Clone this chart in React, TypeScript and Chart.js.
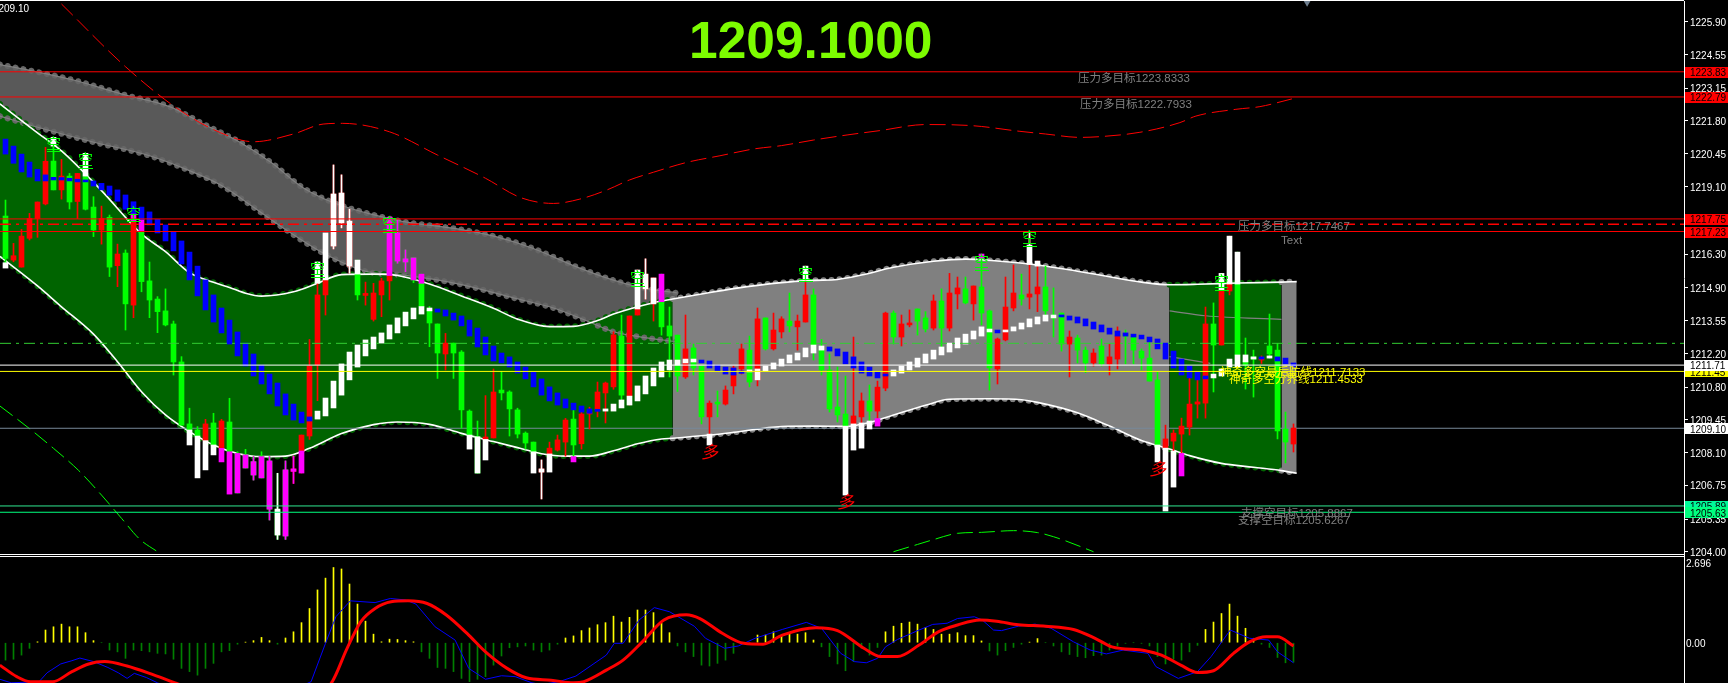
import React, { useEffect, useRef } from "react";
import { Chart, registerables } from "chart.js";

Chart.register(...registerables);

const bodyTop = [
  1217.87,1216.23,1217.04,1217.77,1218.45,1220.13,1220.14,1219.52,1219.52,1219.63,
  1219.5,1218.24,1217.77,1217.82,1216.3,1216.34,1217.68,1217.22,1215.19,1214.44,
  1213.95,1213.41,1211.84,1209.28,1209.03,1209.28,1209.32,1209.4,1209.36,1208.06,
  1208,1207.72,1207.93,1207.75,1205.76,1207.38,1207.42,1208.82,1211.67,1214.61,
  1215.23,1218.78,1218.82,1217.66,1215.47,1214.65,1214.69,1215.19,1215.41,1217.17,
  1216.1,1216.14,1215.09,1213.99,1213.41,1212.62,1212.62,1212.25,1209.81,1208.75,
  1208.74,1210.6,1210.68,1210.6,1209.86,1208.9,1208.53,1207.42,1208.28,1208.62,
  1209.44,1209.48,1209.69,1209.75,1210.6,1210.97,1212.96,1212.91,1213.74,1214.03,
  1215.47,1215.31,1214.33,1213.33,1212.95,1212.38,1212.42,1211.67,1210.14,1210.14,
  1210.68,1211.59,1212.38,1212.33,1213.62,1213.66,1213.16,1213.62,1213.53,1213.53,
  1214.61,1214.61,1212.33,1211.51,1209.98,1209.69,1209.61,1210.23,1210.23,1210.8,
  1213.86,1213.86,1213.41,1213.45,1214.03,1213.66,1214.36,1214.36,1214.69,1214.9,
  1214.86,1214.98,1214.94,1213.95,1212.79,1214.11,1214.69,1214.61,1214.65,1214.94,
  1214.94,1213.78,1213.86,1212.87,1212.83,1212.33,1212.21,1212.5,1212.05,1212.91,
  1212.99,1212.87,1212.29,1212.0,1211.1,1208.66,1208.9,1209.19,1210.1,1210.19,
  1213.41,1213.41,1214.81,1215.06,1215.06,1211.88,1212.05,1212.0,1212.5,1212.33,1209.07,1209.11,
];
const bodyBottom = [
  1216.12,1216.05,1215.76,1216.95,1217.77,1218.37,1218.95,1218.95,1218.45,1218.47,
  1218.15,1217.29,1217.29,1215.76,1215.82,1214.24,1214.19,1215.16,1214.4,1213.92,
  1213.37,1211.84,1209.23,1209.03,1208.78,1208.59,1208.41,1208.27,1208.13,1206.43,
  1207.46,1207.17,1207.05,1205.76,1204.69,1204.65,1207.32,1208.16,1208.78,1211.72,
  1214.61,1216.63,1217.58,1215.8,1214.61,1214.59,1213.6,1214.61,1215.19,1216.01,
  1215.97,1215.23,1214.13,1213.45,1212.21,1212.17,1212.21,1209.86,1208.82,1207.25,
  1208.64,1208.7,1210.56,1209.9,1208.86,1208.49,1208.13,1207.29,1208.04,1208.2,
  1208.53,1208.41,1208.46,1209.69,1209.86,1210.56,1210.81,1210.47,1210.43,1213.78,
  1214.86,1214.24,1213.29,1212.91,1211.26,1211.22,1211.59,1209.57,1209.57,1210.1,
  1210.1,1210.85,1211.55,1211.01,1211.1,1212.38,1212.38,1213.08,1213.33,1213.29,
  1213.49,1212.54,1211.51,1209.9,1209.65,1209.19,1209.28,1209.57,1209.81,1209.81,
  1210.76,1212.87,1212.87,1213.37,1213.53,1213.2,1213.24,1213.24,1213.24,1214.65,
  1214.28,1214.24,1213.86,1211.59,1211.55,1212.75,1214.07,1214.44,1214.52,1214.65,
  1213.95,1213.66,1212.58,1212.58,1212.33,1211.8,1211.8,1211.76,1211.76,1211.96,
  1212.91,1212.33,1212.0,1211.05,1208.41,1208.28,1208.57,1208.86,1209.15,1210.1,
  1210.14,1212.54,1212.54,1214.77,1212.13,1211.7,1211.96,1211.92,1212.17,1208.99,1208.53,1208.45,
];
const wickHigh = [
  1218.53,1216.74,1217.32,1217.98,1218.45,1220.71,1221.12,1220.21,1219.63,1219.63,
  1220.46,1218.67,1218.28,1217.91,1216.71,1216.47,1217.71,1217.22,1215.97,1214.54,
  1214.86,1213.53,1212.06,1209.93,1209.17,1209.47,1209.72,1209.47,1210.34,1208.13,
  1208.23,1207.93,1208.13,1207.93,1207.24,1207.75,1207.95,1208.82,1212.77,1215.97,
  1217.17,1219.98,1219.57,1218.15,1216.05,1215.14,1215.09,1215.3,1217.82,1217.71,
  1216.47,1216.14,1215.47,1214.13,1213.41,1213.02,1212.62,1212.31,1209.86,1209.4,
  1210.45,1211.55,1211.44,1210.65,1209.93,1208.95,1208.53,1207.79,1208.53,1208.82,
  1209.51,1209.86,1209.79,1209.97,1211.01,1211.01,1213.09,1213.78,1213.74,1215.64,
  1216.1,1215.31,1215.47,1214.11,1212.95,1213.78,1212.58,1211.67,1210.23,1210.64,
  1210.85,1211.67,1212.58,1212.91,1214.07,1213.66,1213.86,1213.71,1214.69,1213.78,
  1215.8,1214.86,1212.77,1212.17,1211.63,1211.26,1212.87,1210.56,1210.89,1211.05,
  1213.9,1213.95,1213.78,1213.99,1214.03,1213.92,1214.61,1214.86,1215.5,1215.35,
  1215.35,1214.98,1216.3,1213.99,1212.83,1215.35,1215.85,1215.47,1217.21,1216.01,
  1215.8,1214.9,1213.86,1213.12,1212.95,1212.46,1212.38,1212.79,1212.58,1213.29,
  1213.16,1212.99,1212.38,1212.67,1211.43,1209.23,1209.03,1209.52,1211.26,1211.1,
  1214.11,1214.28,1215.5,1217.04,1216.38,1212.83,1212.33,1212.09,1213.82,1212.61,1209.77,1209.28,
];
const wickLow = [
  1215.92,1215.98,1215.76,1216.88,1216.99,1218.33,1218.95,1218.57,1218.16,1217.77,
  1218.12,1217.02,1216.71,1215.37,1214.95,1213.16,1213.67,1214.74,1213.67,1213.05,
  1213.33,1211.3,1209.23,1209.03,1208.78,1208.59,1208.41,1208.27,1208.13,1206.43,
  1207.46,1206.96,1207.05,1205.31,1204.51,1204.51,1206.82,1207.25,1208.64,1210.24,
  1213.78,1216.51,1217.38,1215.5,1214.4,1214.19,1213.53,1213.71,1214.4,1215.92,
  1215.57,1215.12,1214.13,1212.47,1211.16,1211.51,1211.16,1209.1,1208.78,1207.25,
  1208.64,1208.7,1210.27,1208.78,1208.7,1208.24,1208.13,1206.18,1208.04,1208.16,
  1207.95,1207.93,1208.24,1209.07,1209.57,1209.32,1210.71,1210.27,1210.06,1213.78,
  1214.44,1213.53,1212.95,1211.22,1210.62,1211.16,1211.3,1209.28,1208.86,1209.57,
  1210.06,1210.52,1211.34,1210.81,1210.85,1212.33,1212.33,1212.83,1213.08,1212.33,
  1213.49,1211.92,1211.3,1209.77,1209.36,1209.19,1209.28,1209.32,1209.37,1209.51,
  1210.65,1212.58,1212.5,1213.29,1212.95,1213.08,1213.16,1212.46,1213.12,1214.03,
  1214.24,1213.57,1213.37,1210.68,1210.93,1212.71,1213.95,1214.19,1214.03,1213.92,
  1213.57,1212.87,1212.29,1211.22,1211.8,1211.4,1211.67,1211.67,1211.3,1211.55,
  1211.76,1211.76,1211.51,1211.05,1208.41,1208.28,1208.16,1208.06,1208.82,1209.52,
  1209.52,1210.6,1212.54,1214.61,1211.63,1210.72,1210.39,1211.78,1212.0,1208.66,1207.67,1208.12,
];
const candleDir =
  "GRRRRRGRGR" + "GGRGRGRGGG" + "GGGGGRGRGG" + "GGGGGGRRRR" + "RRRRGRRRRG" +
  "GGGGGRGGGG" + "RRGGGGGRRR" + "RGRRRRRGRR" + "RRGGGRGGRG" + "RRRGRGRRGR" +
  "RGGGGGRRGR" + "RGRRGGRGRR" + "GRGGRRRGRR" + "GGGRGGRGRR" + "GGGGGRRRRR" +
  "RGRRGGGRGGGR";

const ribbonTop = [
  1221.05,1220.76,1220.43,1220.1,1219.8,1219.57,1219.47,1219.46,1219.43,1219.39,
  1219.36,1219.32,1219.22,1219.11,1218.95,1218.74,1218.46,1218.24,1218.04,1217.73,
  1217.5,1217.21,1216.84,1216.38,1215.8,1215.23,1214.61,1214.07,1213.57,1213.08,
  1212.62,1212.17,1211.71,1211.34,1210.97,1210.52,1210.1,1209.77,1209.57,1209.81,
  1210.35,1211.05,1211.76,1212.25,1212.54,1212.75,1212.87,1213.04,1213.37,1213.66,
  1213.9,1214.07,1214.13,1214.07,1214.03,1213.99,1213.86,1213.74,1213.57,1213.24,
  1212.87,1212.5,1212.21,1212.05,1211.84,1211.63,1211.43,1211.14,1210.81,1210.56,
  1210.31,1210.14,1210.02,1209.9,1209.86,1209.9,1210.1,1210.27,1210.43,1210.85,
  1211.26,1211.59,1211.84,1211.92,1211.92,1211.96,1211.96,1211.92,1211.88,1211.71,
  1211.63,1211.59,1211.47,1211.51,1211.55,1211.67,1211.8,1211.96,1212.13,1212.21,
  1212.42,1212.54,1212.5,1212.46,1212.38,1212.25,1212.05,1211.84,1211.63,1211.43,
  1211.34,1211.51,1211.67,1211.84,1212.0,1212.17,1212.33,1212.46,1212.62,1212.83,
  1212.99,1213.12,1213.29,1213.2,1213.16,1213.16,1213.29,1213.45,1213.62,1213.7,
  1213.78,1213.78,1213.74,1213.74,1213.7,1213.62,1213.49,1213.37,1213.24,1213.12,
  1213.04,1212.99,1212.95,1212.87,1212.79,1212.62,1212.29,1211.96,1211.67,1211.43,
  1211.26,1211.34,1211.55,1211.96,1212.13,1212.13,1212.05,1212.05,1212.09,1212.05,1212.0,1211.8,
];
const ribbonBottom = [
  1220.43,1220.05,1219.69,1219.48,1219.32,1219.32,1219.36,1219.36,1219.32,1219.28,
  1219.28,1219.11,1218.95,1218.73,1218.48,1218.15,1217.98,1217.73,1217.5,1217.17,
  1216.84,1216.43,1215.89,1215.23,1214.57,1213.99,1213.49,1213.04,1212.58,1212.09,
  1211.67,1211.26,1210.93,1210.52,1210.02,1209.65,1209.44,1209.32,1209.4,1209.48,
  1209.61,1209.94,1210.47,1211.1,1211.63,1212.09,1212.38,1212.62,1212.79,1213.04,
  1213.33,1213.62,1213.82,1213.95,1213.9,1213.74,1213.57,1213.33,1212.91,1212.46,
  1212.13,1211.88,1211.8,1211.63,1211.38,1211.14,1210.81,1210.47,1210.23,1210.06,
  1209.94,1209.86,1209.77,1209.72,1209.8,1209.81,1209.81,1209.94,1210.06,1210.23,
  1210.52,1210.85,1211.22,1211.51,1211.71,1211.8,1211.84,1211.8,1211.59,1211.47,
  1211.34,1211.3,1211.37,1211.43,1211.1,1211.47,1211.55,1211.67,1211.8,1211.92,
  1212.05,1212.21,1212.33,1212.29,1212.09,1211.76,1211.59,1211.38,1211.26,1211.18,
  1211.26,1211.26,1211.38,1211.51,1211.63,1211.8,1211.96,1212.13,1212.25,1212.42,
  1212.58,1212.79,1212.91,1213.08,1213.04,1213.08,1213.12,1213.2,1213.29,1213.41,
  1213.53,1213.66,1213.7,1213.57,1213.45,1213.33,1213.2,1213.08,1212.99,1212.91,
  1212.91,1212.87,1212.79,1212.67,1212.38,1211.96,1211.59,1211.3,1211.18,1211.1,
  1211.14,1211.18,1211.26,1211.63,1211.63,1211.84,1211.96,1211.96,1212.0,1211.88,1211.76,1211.65,
];
const ribbonKinds =
  "bbbbbbbbbb" + "bbbbbbbbbb" + "bbbbbbbbbb" + "bbbbbbbbbw" + "wwwwwwwwww" +
  "wwwwbbbbbb" + "bbbbbbbbbb" + "bbbbbwwwww" + "wwwwwwwbbb" + "bbbwwwwwww" +
  "wwwbbbbbbb" + "bwwwwwwwww" + "wwwwbwwwww" + "wwbbbbbbbb" + "bbbbbbbbbb" +
  "bwwwwwwbwbbb";

const whiteIdx = [0,6,10,23,24,25,26,34,39,40,41,42,43,44,58,59,60,66,67,68,79,80,81,88,100,105,106,107,108,128,129,144,145,146,152,153,154];
const whiteTop = [1215.94,1221.12,1220.46,1209.03,1208.78,1208.59,1208.41,1205.76,1215.97,1217.17,1218.78,1218.82,1217.66,1216.05,1208.82,1208.75,1208.64,1208.13,1207.42,1208.04,1215.64,1215.47,1215.31,1208.86,1215.8,1209.19,1209.28,1209.32,1209.4,1216.67,1216.01,1208.41,1208.28,1208.16,1215.5,1217.04,1216.38];
const whiteBottom = [1215.72,1220.76,1219.52,1208.41,1207.05,1207.38,1208.0,1204.69,1215.09,1215.23,1216.63,1217.58,1215.8,1215.47,1208.24,1207.25,1207.79,1207.25,1207.29,1207.29,1214.03,1214.86,1214.24,1208.41,1215.21,1206.34,1208.2,1208.28,1209.07,1215.87,1215.8,1207.71,1205.68,1206.67,1214.81,1215.06,1215.06];
const whiteWickIdx = [34,41,42,43,67,80,128];
const whiteWickHigh = [1207.24,1219.98,1219.57,1218.15,1207.79,1216.1,1217.21];
const whiteWickLow = [1204.51,1216.51,1217.38,1215.5,1206.18,1214.44,1215.87];

const magentaIdx = [16,17,27,28,29,30,31,32,33,35,36,37,48,49,50,51,52,71,82,109,122,147];
const magentaTop = [1217.98,1217.73,1208.27,1208.13,1208.06,1208,1207.72,1207.93,1207.75,1207.38,1207.42,1208.16,1217.82,1217.17,1216.1,1216.14,1215.47,1207.93,1215.47,1209.5,1216.3,1208.06];
const magentaBottom = [1217.68,1217.22,1207.71,1206.38,1206.43,1207.46,1207.17,1207.05,1205.76,1204.65,1207.32,1207.25,1215.41,1216.01,1215.97,1215.23,1215.09,1207.71,1214.33,1209.19,1216.14,1207.13];
const magentaWickIdx = [31,33,35,36,49,50];
const magentaWickHigh = [1207.93,1207.93,1207.75,1207.95,1217.71,1216.47];
const magentaWickLow = [1206.96,1205.31,1204.51,1206.82,1215.92,1215.57];

const mainUpperX = [-0.7,4,7,12,17,20,23,26,28,30,32,36,39,42,46,49,53,57,61,64,68,71,74,76,81,83.4,87,91,97,101,104,107,111,116,120,124,129,134,138,142,145.5,149,154,159.5,161.4];
const mainUpperY = [1222.5,1221.31,1220.56,1218.92,1217.13,1216.4,1215.53,1215.13,1214.92,1214.68,1214.56,1214.74,1215.09,1215.45,1215.47,1215.41,1215.06,1214.57,1214.06,1213.61,1213.3,1213.31,1213.55,1213.82,1214.29,1214.44,1214.65,1214.87,1215.12,1215.21,1215.25,1215.43,1215.75,1216.0,1216.09,1216.01,1215.85,1215.59,1215.36,1215.14,1215.03,1215.05,1215.1,1215.14,1215.16];
const mainLowerX = [-0.7,4,7,11,14,17,20,23,26,29,32,35,38,42,46,49,53,57,61,64,67,70,73,76,79,82,83.4,88,91,97,101,105,108,111,115,118,123,127,129,134,138,142,144,145.5,148,152,156,159.5,161.4];
const mainLowerY = [1216.2,1214.98,1214.12,1212.99,1211.85,1210.61,1209.65,1208.96,1208.41,1208.06,1207.93,1207.95,1208.27,1208.88,1209.25,1209.36,1209.26,1208.89,1208.55,1208.3,1208.05,1207.95,1207.95,1208.17,1208.46,1208.66,1208.69,1208.82,1208.93,1209.17,1209.19,1209.18,1209.34,1209.65,1210.05,1210.3,1210.32,1210.28,1210.17,1209.74,1209.19,1208.59,1208.39,1208.24,1207.97,1207.65,1207.49,1207.35,1207.24];
const darkUpperX = [-0.7,3.9,8.5,15,20.5,25,29.2,33.3,37,40.7,45.2,49.8,56.7,61.3,65.9,71.3,75.9,79.6,84];
const darkUpperY = [1224.13,1223.83,1223.49,1222.87,1222.39,1221.63,1220.94,1220.06,1219.08,1218.46,1217.99,1217.64,1217.33,1217.02,1216.54,1215.78,1215.23,1214.9,1214.69];
const darkLowerX = [-0.7,3.9,10.8,17.7,22.3,26.9,31.5,35.1,39.7,45.2,49.8,56.7,63.6,68.5,72.7,76,79.3,84];
const darkLowerY = [1222.0,1221.55,1220.94,1220.39,1219.84,1219.15,1218.12,1217.29,1216.34,1215.57,1215.43,1215.06,1214.48,1214.07,1213.53,1213.09,1212.88,1212.67];
const stubUpperX = [145.5,150,159.5];
const stubUpperY = [1213.95,1213.75,1213.6];
const stubLowerX = [145.5,150.6];
const stubLowerY = [1212.06,1211.78];

const redEnvX = [7,15,21.4,26.9,31,36,39.7,42.1,48,54,60,64.4,68.5,71.8,75.2,78,81,85.2,89.3,93.5,97,101,105.2,109.3,115,121,126.8,130,134.3,136.8,141.8,146.8,148.8,153.8,156.8,160.8];
const redEnvY = [1226.63,1224.04,1222.33,1221.31,1220.94,1221.26,1221.67,1221.7,1221.35,1220.39,1219.43,1218.63,1218.39,1218.57,1218.95,1219.36,1219.68,1220.09,1220.36,1220.64,1220.78,1221.01,1221.22,1221.4,1221.65,1221.6,1221.37,1221.26,1221.12,1221.15,1221.33,1221.73,1222.0,1222.28,1222.39,1222.71];
const greenEnvAX = [-0.7,3.1,6,9.1,12,14.5,16.8,19];
const greenEnvAY = [1210.02,1209.06,1208.27,1207.37,1206.34,1205.38,1204.51,1204.0];
const greenEnvBX = [111,114,116,119,122,126,129,131,132.5,136];
const greenEnvBY = [1204.0,1204.3,1204.5,1204.76,1204.8,1204.87,1204.79,1204.62,1204.45,1204.0];

const levelValues = [1223.83,1222.79,1217.75,1217.23,1211.71,1211.45,1205.89,1205.63];
const levelColors = ["#ff0000","#ff0000","#ff0000","#ff0000","#ffffff","#ffff00","#30e890","#00ff7f"];
const dashRedLevel = 1217.53;
const dashGreenLevel = 1212.61;
const priceLevel = 1209.1;

const priceTicks = [1225.9,1224.55,1223.15,1221.8,1220.45,1219.1,1216.3,1214.9,1213.55,1212.2,1210.8,1209.45,1208.1,1206.75,1205.35,1204.0];
const boxValues = [1223.83,1222.79,1217.75,1217.23,1211.45,1211.71,1209.1,1205.89,1205.63];
const boxColors = ["#ff0000","#ff0000","#ff0000","#ff0000","#ffff00","#ffffff","#ffffff","#00fa9a","#00ff7f"];

const kongIdx = [6,10,16,39,48,79,100,122,128,152];
const kongPrice = [1220.87,1220.19,1217.98,1215.68,1217.54,1215.32,1215.5,1215.96,1216.95,1215.16];
const duoIdx = [88,105,144];
const duoPrice = [1208.09,1206.03,1207.4];

const macdHist = [
  -0.59,-0.56,-0.42,-0.19,0.03,0.43,0.54,0.63,0.54,0.54,0.34,0.07,0,-0.25,-0.31,-0.53,-0.25,-0.27,-0.31,-0.36,
  -0.38,-0.56,-0.87,-0.98,-1.1,-0.87,-0.7,-0.31,-0.27,-0.05,0.02,0.07,0.18,0.07,-0.05,0.16,0.37,0.68,1.16,1.79,
  2.19,2.55,2.5,1.99,1.31,0.73,0.29,0.03,0.12,0.11,0.07,0.03,-0.31,-0.53,-0.84,-0.87,-0.98,-1.21,-1.32,-1.24,
  -1.15,-0.76,-0.45,-0.17,-0.14,-0.11,-0.25,-0.31,-0.25,-0.05,0.16,0.23,0.41,0.5,0.61,0.68,0.9,0.7,0.86,1.11,
  1.11,1.02,0.66,0.34,-0.11,-0.31,-0.47,-0.76,-0.79,-0.7,-0.59,-0.36,-0.05,0,0.26,0.26,0.37,0.26,0.34,0.29,
  0.34,0.09,-0.14,-0.47,-0.72,-0.95,-0.64,-0.19,-0.42,-0.16,0.37,0.56,0.66,0.7,0.63,0.52,0.45,0.29,0.29,0.34,
  0.24,0.24,0.06,-0.28,-0.42,-0.27,-0.16,-0.05,0.02,0.14,0,-0.11,-0.31,-0.4,-0.47,-0.51,-0.44,-0.42,-0.25,-0.11,
  -0.02,0,-0.02,-0.11,-0.47,-0.72,-0.56,-0.59,-0.31,-0.09,0.45,0.7,0.99,1.31,0.9,0.49,0.15,-0.05,-0.16,-0.5,-0.68,-0.66,
];
const macdBlueX = [-0.7,0.7,4.2,5.2,6.9,8.3,9.3,11,12.8,14.1,15.2,16.1,17.6,19,21,36,38.2,40,41.3,43.1,46.2,48.1,50,51.3,53.7,56.2,57.9,60,62,63.7,65.8,67,69.2,71.3,75.1,76.1,77.2,79.2,81.1,83,86.1,87.5,89.9,91.6,93.7,97.1,100.1,102,104.4,106.1,107.6,109,110,111.5,114.2,115.9,117.7,119,121.1,122.1,123.5,124.5,126.6,128.7,130.7,133.5,135.6,137.6,139.7,142.8,143.8,146.6,149,150.7,153.1,155.5,157.9,159,161];
const macdBlueY = [-1.24,-1.36,-1.32,-1.02,-0.72,-0.61,-0.52,-0.64,-0.84,-1.02,-1.21,-1.04,-1.18,-1.36,-1.6,-1.6,-1.32,-0.02,0.88,1.42,1.36,1.5,1.45,1.31,0.54,0.09,-0.87,-1.24,-1.12,-1.15,-1.36,-1.42,-1.32,-1.13,-0.42,-0.02,-0.02,0.77,1.19,1.05,0.56,0.15,-0.19,-0.11,0.15,0.45,0.69,0.49,-0.36,-0.64,-0.68,-0.53,-0.14,0.11,0.43,0.62,0.66,0.82,0.88,0.77,0.43,0.41,0.56,0.63,0.49,0.03,-0.25,-0.38,-0.25,-0.36,-0.81,-1.21,-0.98,-0.47,0.43,0.15,0.09,-0.31,-0.68];
const macdRedX = [-0.7,1.4,3.1,5.9,8.3,10.4,12.4,15.2,18.6,21.4,24,39,40.7,42.7,44.4,46.2,48.2,50.3,52.7,55.1,57.9,60,62.7,65.1,68.2,71,72.3,75.1,77.2,79.6,82.3,85.1,86.8,89.6,92.3,94.7,97.1,101.3,104,107.3,109.4,111.5,114.2,116.6,119,121.8,123.9,126.6,130,133.5,136.2,138.3,142.5,144.5,146.9,149,151,153.5,155.5,157.6,159,161];
const macdRedY = [-0.76,-1.15,-1.32,-1.32,-0.98,-0.72,-0.64,-0.79,-1.1,-1.38,-1.6,-1.6,-1.38,-0.19,0.71,1.16,1.39,1.42,1.33,0.94,0.26,-0.31,-0.87,-1.19,-1.27,-1.36,-1.32,-0.93,-0.59,0.03,0.77,0.95,0.82,0.32,-0.02,-0.05,0.26,0.51,0.41,-0.19,-0.47,-0.47,-0.08,0.37,0.6,0.77,0.73,0.61,0.56,0.45,0.15,-0.14,-0.27,-0.42,-0.76,-1.01,-0.95,-0.36,0.03,0.2,0.2,-0.11];
const macdTicks = [2.696, 0];

const FONT = '"Liberation Sans","Noto Sans CJK SC",sans-serif';
const xMin = -0.6875;
const xMax = 209.8125;
const axisWidth = 44;

const pts = (xs: number[], ys: number[]) => xs.map((x, k) => ({ x, y: ys[k] }));
const hLine = (v: number) => [{ x: xMin, y: v }, { x: xMax, y: v }];
const bars = (xs: number[], tops: number[], bottoms: number[]) =>
  xs.map((x, k) => ({ x, y: [bottoms[k], tops[k]] }));
const allIdx = bodyTop.map((_, i) => i);

const bandColor = (x: number) => (x < 83.4 ? "#006400" : x < 145.5 ? "#808080" : x < 159.5 ? "#006400" : "#808080");
const seg = {
  backgroundColor: (c: any) => bandColor(c.p0.parsed.x),
  borderColor: (c: any) => bandColor(c.p0.parsed.x),
};
const smooth = { type: "line", cubicInterpolationMode: "monotone", pointRadius: 0 };
const barDs = (data: any[], color: any, thick: number, order: number, minLen = 0) => ({
  type: "bar", data, backgroundColor: color, barThickness: thick, grouped: false,
  borderWidth: 0, borderSkipped: false, order, minBarLength: minLen,
});
const flat = (v: number, color: string, width: number, order: number, dash?: number[]) => ({
  type: "line", data: hLine(v), borderColor: color, borderWidth: width, pointRadius: 0,
  borderDash: dash || [], order,
});

function axisOptions(ticks: number[], min: number, max: number, tickLength: number, fmt: (v: number) => string) {
  return {
    type: "linear", position: "right", min, max,
    afterBuildTicks: (s: any) => { s.ticks = ticks.map((value) => ({ value })); },
    afterFit: (s: any) => {
      s.width = axisWidth;
      s.paddingTop = 0;
      s.paddingBottom = 0;
      s.paddingLeft = 0;
      s.paddingRight = 0;
    },
    ticks: { autoSkip: false, color: "#ffffff", font: { family: FONT, size: 10 }, padding: 2, labelOffset: 1.5, callback: (v: any) => fmt(Number(v)) },
    grid: { drawOnChartArea: false, tickColor: "#ffffff", tickLength, drawTicks: tickLength > 0 },
    border: { color: "#ffffff", width: 1 },
  };
}

const mainOverlay = {
  id: "mainOverlay",
  afterDraw(chart: any) {
    const { ctx, scales } = chart;
    const X = scales.x, Y = scales.y;
    ctx.save();
    ctx.fillStyle = "#ffffff";
    ctx.fillRect(0, 0, 1684, 1);
    ctx.fillRect(0, 554, 1684, 1);
    ctx.textBaseline = "middle";
    ctx.textAlign = "center";
    ctx.font = `15px ${FONT}`;
    ctx.fillStyle = "#00ff00";
    kongIdx.forEach((i, k) => {
      const x = X.getPixelForValue(i);
      const y = Y.getPixelForValue(kongPrice[k]);
      ctx.fillText("空", x, y + 1);
      ctx.fillRect(Math.round(x) - 7, Math.round(y) + 8, 14, 1);
    });
    ctx.font = `italic 17px ${FONT}`;
    ctx.fillStyle = "#ff0000";
    duoIdx.forEach((i, k) => ctx.fillText("多", X.getPixelForValue(i), Y.getPixelForValue(duoPrice[k]) + 1));
    ctx.textAlign = "left";
    const gray = "#808080";
    const labels: [string, number, number, string][] = [
      ["压力多目标1223.8333", 1078, 79, gray],
      ["压力多目标1222.7933", 1080, 105, gray],
      ["压力多目标1217.7467", 1238, 227, gray],
      ["Text", 1281, 241, gray],
      ["支撑空目标1205.8867", 1241, 514, gray],
      ["支撑空目标1205.6267", 1238, 521, gray],
      ["神奇多空最后防线1211.7133", 1220, 373, "#ffff00"],
      ["神奇多空分界线1211.4533", 1229, 380, "#ffff00"],
    ];
    ctx.font = `11.5px ${FONT}`;
    labels.forEach(([t, x, y, c]) => { ctx.fillStyle = c; ctx.fillText(t, x, y); });
    ctx.font = `bold 51.5px ${FONT}`;
    ctx.fillStyle = "#7cfc00";
    ctx.fillText("1209.1000", 689, 44);
    ctx.font = `10px ${FONT}`;
    ctx.fillStyle = "#ffffff";
    ctx.textAlign = "right";
    ctx.fillText("1209.10", 29, 9);
    ctx.textAlign = "left";
    boxValues.forEach((v, k) => {
      const y = Y.getPixelForValue(v);
      ctx.fillStyle = boxColors[k];
      ctx.fillRect(1685, Math.round(y) - 5, 43, 11);
      ctx.fillStyle = "#000000";
      ctx.fillText(v.toFixed(2), 1690, y + 1.5);
    });
    ctx.restore();
  },
};
const macdOverlay = {
  id: "macdOverlay",
  afterDraw(chart: any) {
    chart.ctx.fillStyle = "#ffffff";
    chart.ctx.fillRect(0, 1, 1684, 1);
  },
};

export default function App() {
  const mainRef = useRef<HTMLCanvasElement>(null);
  const macdRef = useRef<HTMLCanvasElement>(null);

  useEffect(() => {
    document.body.style.margin = "0";
    document.body.style.background = "#000";
    const isGreen = (i: number) => candleDir[i] === "G";
    const candleColor = (c: any) => (isGreen(c.dataIndex) ? "#00ff00" : "#ff0000");
    const ribbonColor = (c: any) => (ribbonKinds[c.dataIndex] === "b" ? "#0000ff" : "#ffffff");

    const mainData: any[] = [
      { ...smooth, data: pts(darkUpperX, darkUpperY), borderColor: "transparent", borderWidth: 0, fill: 1, backgroundColor: "#595959", order: 100 },
      { ...smooth, data: pts(darkLowerX, darkLowerY), borderColor: "transparent", borderWidth: 0, fill: false, order: 100 },
      { ...smooth, data: pts(mainUpperX, mainUpperY), borderColor: "transparent", borderWidth: 0, fill: 3, backgroundColor: "#006400", segment: { backgroundColor: seg.backgroundColor }, order: 90 },
      { ...smooth, data: pts(mainLowerX, mainLowerY), borderColor: "transparent", borderWidth: 0, fill: false, order: 90 },
      { ...smooth, data: pts(darkUpperX, darkUpperY), borderColor: "#666666", borderWidth: 6, borderDash: [0.01, 8], borderCapStyle: "round", order: 89 },
      { ...smooth, data: pts(darkLowerX, darkLowerY), borderColor: "#666666", borderWidth: 6, borderDash: [0.01, 8], borderCapStyle: "round", order: 89 },
      { ...smooth, data: pts(mainUpperX, mainUpperY), borderColor: "#006400", segment: { borderColor: seg.borderColor }, borderWidth: 6, borderDash: [0.01, 8], borderCapStyle: "round", order: 88 },
      { ...smooth, data: pts(mainLowerX, mainLowerY), borderColor: "#006400", segment: { borderColor: seg.borderColor }, borderWidth: 6, borderDash: [0.01, 8], borderCapStyle: "round", order: 88 },
      { ...smooth, data: pts(darkUpperX, darkUpperY), borderColor: "#808080", borderWidth: 1.2, order: 86 },
      { ...smooth, data: pts(darkLowerX, darkLowerY), borderColor: "#808080", borderWidth: 1.2, order: 86 },
      { ...smooth, data: pts(stubUpperX, stubUpperY), borderColor: "#808080", borderWidth: 1.2, order: 86 },
      { ...smooth, data: pts(stubLowerX, stubLowerY), borderColor: "#808080", borderWidth: 1.2, order: 86 },
      { ...smooth, data: pts(mainUpperX, mainUpperY), borderColor: "#ffffff", borderWidth: 1.6, order: 85 },
      { ...smooth, data: pts(mainLowerX, mainLowerY), borderColor: "#ffffff", borderWidth: 1.6, order: 85 },
      { ...smooth, data: pts(redEnvX, redEnvY), borderColor: "#ff0000", borderWidth: 1, borderDash: [16, 6], order: 80 },
      { ...smooth, data: pts(greenEnvAX, greenEnvAY), borderColor: "#00ff00", borderWidth: 1, borderDash: [16, 6], order: 80 },
      { ...smooth, data: pts(greenEnvBX, greenEnvBY), borderColor: "#00ff00", borderWidth: 1, borderDash: [16, 6], order: 80 },
      flat(priceLevel, "#778899", 1, 70),
      barDs(bars(allIdx, wickHigh, wickLow), candleColor, 1, 60),
      barDs(bars(allIdx, bodyTop, bodyBottom), candleColor, 5, 59, 2),
      barDs(bars(whiteWickIdx, whiteWickHigh, whiteWickLow), "#ffffff", 1, 58),
      barDs(bars(magentaWickIdx, magentaWickHigh, magentaWickLow), "#ff00ff", 1, 58),
      barDs(bars(whiteIdx, whiteTop, whiteBottom), "#ffffff", 5, 57, 2),
      barDs(bars(magentaIdx, magentaTop, magentaBottom), "#ff00ff", 5, 57, 2),
      barDs(bars(allIdx, ribbonTop, ribbonBottom), ribbonColor, 5, 56, 2),
      ...levelValues.map((v, k) => flat(v, levelColors[k], 1, 50)),
      flat(dashRedLevel, "#ff0000", 1.4, 49, [11, 5, 3, 5]),
      flat(dashGreenLevel, "#32cd32", 1, 49, [11, 5, 3, 5]),
      { type: "line", data: [{ x: 162.7, y: 1226.68 }], pointStyle: "triangle", rotation: 180, pointRadius: 4, pointBackgroundColor: "#708090", pointBorderWidth: 0, showLine: false, order: 48 },
    ];

    const main = new Chart(mainRef.current as any, {
      type: "bar",
      data: { datasets: mainData },
      plugins: [mainOverlay],
      options: {
        responsive: false, animation: false, devicePixelRatio: 1, events: [],
        layout: { autoPadding: false, padding: { top: 1, bottom: 1, left: 0, right: 0 } },
        plugins: { legend: { display: false }, tooltip: { enabled: false }, title: { display: false } },
        scales: {
          x: { type: "linear", display: false, min: xMin, max: xMax, offset: false },
          y: axisOptions(priceTicks, 1203.864, 1226.755, 4, (v) => v.toFixed(2)),
        },
      },
    } as any);

    const macdData: any[] = [
      barDs(allIdx.map((i) => ({ x: i, y: [0, macdHist[i] ?? 0] })), (c: any) => ((macdHist[c.dataIndex] ?? 0) > 0 ? "#ffff00" : "#007f00"), 1, 30),
      { type: "line", data: pts(macdBlueX, macdBlueY), borderColor: "#0000ff", borderWidth: 1, pointRadius: 0, order: 20 },
      { type: "line", data: pts(macdRedX, macdRedY), borderColor: "#ff0000", borderWidth: 3, pointRadius: 0, cubicInterpolationMode: "monotone", order: 10 },
    ];

    const macd = new Chart(macdRef.current as any, {
      type: "bar",
      data: { datasets: macdData },
      plugins: [macdOverlay],
      options: {
        responsive: false, animation: false, devicePixelRatio: 1, events: [],
        layout: { autoPadding: false, padding: { top: 1, bottom: 0, left: 0, right: 0 } },
        plugins: { legend: { display: false }, tooltip: { enabled: false } },
        scales: {
          x: { type: "linear", display: false, min: xMin, max: xMax, offset: false },
          y: axisOptions(macdTicks, -1.366, 2.94, 0, (v) => (v === 0 ? "0.00" : v.toFixed(3))),
        },
      },
    } as any);

    return () => { main.destroy(); macd.destroy(); };
  }, []);

  return (
    <div style={{ position: "fixed", left: 0, top: 0, width: 1728, height: 683, background: "#000", overflow: "hidden" }}>
      <canvas ref={mainRef} width={1728} height={556} style={{ position: "absolute", left: 0, top: 0, width: 1728, height: 556 }} />
      <canvas ref={macdRef} width={1728} height={128} style={{ position: "absolute", left: 0, top: 555, width: 1728, height: 128 }} />
    </div>
  );
}
